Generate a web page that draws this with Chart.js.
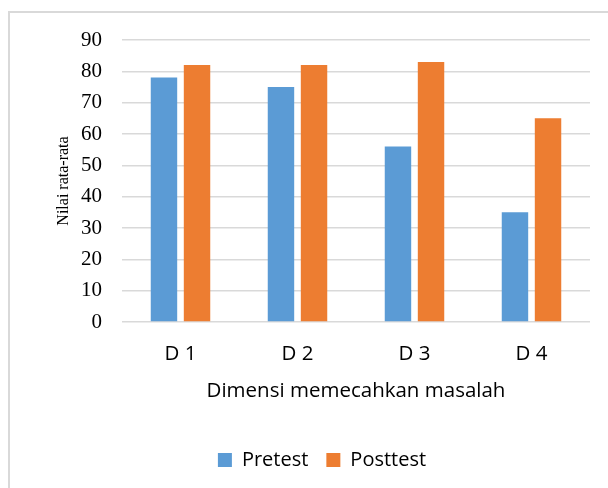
<!DOCTYPE html>
<html>
<head>
<meta charset="utf-8">
<script src="https://cdn.jsdelivr.net/npm/chart.js@4/dist/chart.umd.min.js"></script>
<style>
  html, body { margin: 0; padding: 0; background: #fff; overflow: hidden; }
  #wrap { position: relative; width: 608px; height: 488px; }
  #frame { position: absolute; left: 8px; top: 11px; width: 800px; height: 800px; border: 2px solid #d9d9d9; box-sizing: border-box; }
  canvas { position: absolute; left: 0; top: 0; }
</style>
</head>
<body>
<div id="wrap">
  <div id="frame"></div>
  <canvas id="c" width="608" height="488"></canvas>
</div>
<script>
const categories = ["D 1", "D 2", "D 3", "D 4"];
const pretest = [78, 75, 56, 35];
const posttest = [82, 82, 83, 65];
const yTicks = [0, 10, 20, 30, 40, 50, 60, 70, 80, 90];
const seriesNames = ["Pretest", "Posttest"];
const xTitle = "Dimensi memecahkan masalah";
const yTitle = "Nilai rata-rata";

const sans = "'Open Sans', 'Liberation Sans', Arial, sans-serif";
const serif = "'Liberation Serif', 'Times New Roman', serif";

new Chart(document.getElementById('c'), {
  type: 'bar',
  data: {
    labels: categories,
    datasets: [
      { label: seriesNames[0], data: pretest, backgroundColor: '#5b9bd5', categoryPercentage: 0.565, barPercentage: 0.8 },
      { label: seriesNames[1], data: posttest, backgroundColor: '#ed7d31', categoryPercentage: 0.565, barPercentage: 0.8 }
    ]
  },
  options: {
    responsive: false,
    animation: false,
    layout: { padding: { left: 54, right: 18, top: 40, bottom: 8 } },
    plugins: {
      legend: {
        position: 'bottom',
        labels: {
          font: { family: sans, size: 20 },
          color: '#000',
          boxWidth: 14,
          boxHeight: 14,
          padding: 18
        }
      },
      tooltip: { enabled: false }
    },
    scales: {
      x: {
        grid: { display: false },
        border: { display: false },
        ticks: { font: { family: sans, size: 20.5 }, color: '#000', padding: 12 },
        title: { display: true, text: xTitle, font: { family: sans, size: 20.5 }, color: '#000', padding: { top: 0, bottom: 29 } },
        afterFit: s => { s.height = 110; }
      },
      y: {
        min: 0, max: 90,
        afterBuildTicks: s => { s.ticks = yTicks.map(v => ({ value: v })); },
        grid: { color: '#d9d9d9', lineWidth: 1.5, drawTicks: false },
        border: { display: false },
        ticks: { font: { family: serif, size: 21 }, color: '#000', padding: 20 },
        title: { display: true, text: yTitle, font: { family: serif, size: 16 }, color: '#000', padding: 0 },
        afterFit: s => { s.width = 68; }
      }
    }
  }
});
</script>
</body>
</html>
